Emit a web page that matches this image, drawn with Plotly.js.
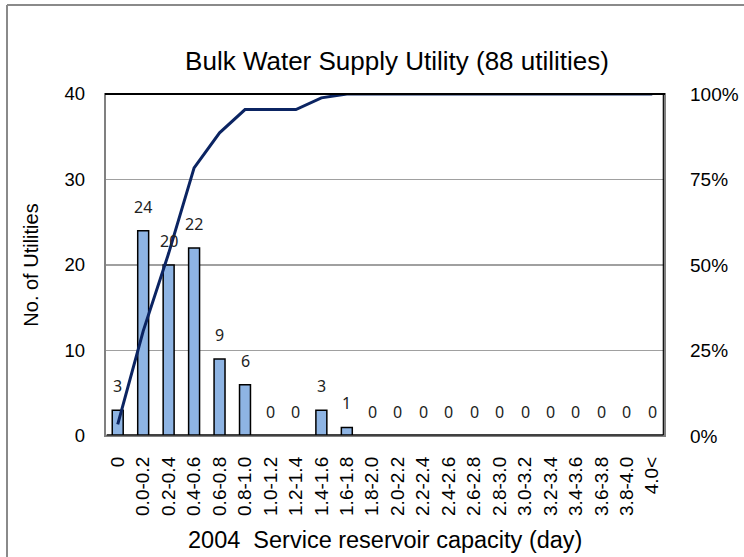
<!DOCTYPE html>
<html>
<head>
<meta charset="utf-8">
<script src="https://cdn.plot.ly/plotly-3.0.1.min.js"></script>
<style>
html,body{margin:0;padding:0;background:#fff;}
#chart{width:744px;height:557px;}
</style>
</head>
<body>
<div id="chart"></div>
<script>
const categories = ["0","0.0-0.2","0.2-0.4","0.4-0.6","0.6-0.8","0.8-1.0","1.0-1.2","1.2-1.4","1.4-1.6","1.6-1.8","1.8-2.0","2.0-2.2","2.2-2.4","2.4-2.6","2.6-2.8","2.8-3.0","3.0-3.2","3.2-3.4","3.4-3.6","3.6-3.8","3.8-4.0","4.0<"];
const counts = [3,24,20,22,9,6,0,0,3,1,0,0,0,0,0,0,0,0,0,0,0,0];
const yTicks = [0,10,20,30,40];
const pctTicks = [0,0.25,0.5,0.75,1];

const total = counts.reduce((a,b)=>a+b,0);
let run = 0;
const cumulative = counts.map(v => { run += v; return run/total; });

const W = 744, H = 557;
const L = 105, R = 665, T = 94, B = 436;
const px = x => (x - L) / (R - L);
const py = y => (B - y) / (B - T);
const FONT = "Liberation Sans, Arial, sans-serif";

const bars = {
  type: 'bar', x: categories, y: counts,
  marker: {color: '#8eb4e3', line: {color: '#000', width: 1.5}},
  hoverinfo: 'skip', cliponaxis: false
};
const line = {
  type: 'scatter', mode: 'lines', x: categories, y: cumulative, yaxis: 'y2',
  line: {color: '#0b2462', width: 3}, hoverinfo: 'skip', cliponaxis: false
};

const annotations = counts.map((v,i) => ({
  x: categories[i], y: v, xref: 'x', yref: 'y', text: String(v),
  showarrow: false, yanchor: 'bottom', yshift: 11,
  font: {family: "Noto Sans, DejaVu Sans, sans-serif", size: 16, color: '#222'}
}));
annotations.push({
  xref: 'paper', yref: 'paper', x: px(385), y: py(540), text: '2004  Service reservoir capacity (day)',
  showarrow: false, xanchor: 'center', yanchor: 'middle',
  font: {family: FONT, size: 23.5, color: '#000'}
});

const shapes = [
  {type:'line', xref:'paper', yref:'paper', x0:px(7), x1:px(760), y0:py(5), y1:py(5), line:{color:'#8a8a8a', width:2}},
  {type:'line', xref:'paper', yref:'paper', x0:px(7), x1:px(7), y0:py(5), y1:py(570), line:{color:'#8a8a8a', width:2}},
  {type:'rect', xref:'paper', yref:'paper', x0:0, x1:1, y0:0, y1:1, line:{color:'#808080', width:2}, layer:'above'},
  {type:'line', xref:'paper', yref:'paper', x0:0, x1:1, y0:1, y1:1, line:{color:'#000', width:2}, layer:'above'},
  {type:'line', xref:'paper', yref:'paper', x0:0.003, x1:0.997, y0:0.003, y1:0.003, line:{color:'#000', width:1.2}, layer:'above'},
  {type:'line', xref:'paper', yref:'paper', x0:0.997, x1:0.997, y0:0.003, y1:0.997, line:{color:'#000', width:1.2}, layer:'above'}
];

const layout = {
  width: W, height: H,
  margin: {l: L, r: W - R, t: T, b: H - B, pad: 0},
  paper_bgcolor: '#fff', plot_bgcolor: '#fff',
  showlegend: false,
  bargap: 0.57,
  font: {family: FONT, color: '#000'},
  title: {text: 'Bulk Water Supply Utility (88 utilities)', x: 397/W, xref: 'container', xanchor: 'center',
          y: 1 - 61/H, yref: 'container', yanchor: 'middle', font: {family: FONT, size: 26, color: '#000'}},
  xaxis: {type: 'category', range: [-0.5, 21.5], tickangle: -90, showgrid: false,
          tickfont: {family: FONT, size: 19, color: '#000'}, ticks: '', ticklabelstandoff: 16,
          showline: false, zeroline: false, fixedrange: true},
  yaxis: {range: [0, 40], tickvals: yTicks, showgrid: true, gridcolor: '#a0a0a0', gridwidth: 1.5,
          tickfont: {family: FONT, size: 18.5, color: '#000'}, ticks: '', ticklabelstandoff: 19,
          zeroline: false, showline: false,
          title: {text: 'No. of Utilities', font: {family: FONT, size: 20, color: '#000'}, standoff: 20}},
  yaxis2: {overlaying: 'y', side: 'right', range: [0, 1], tickvals: pctTicks, tickformat: '.0%',
           showgrid: false, zeroline: false, showline: false, ticks: '', ticklabelstandoff: 24,
           tickfont: {family: FONT, size: 19, color: '#000'}},
  annotations: annotations,
  shapes: shapes
};

Plotly.newPlot('chart', [bars, line], layout, {staticPlot: true, displayModeBar: false});
</script>
</body>
</html>
